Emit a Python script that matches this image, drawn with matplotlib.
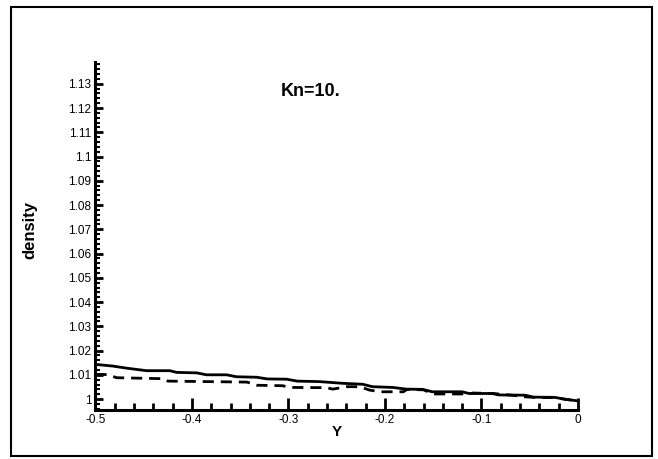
import matplotlib
matplotlib.use('Agg')
import matplotlib.pyplot as plt
from matplotlib.ticker import MultipleLocator, FixedLocator, FixedFormatter
from matplotlib.patches import Rectangle

# DATA
solid_x = [-0.5, -0.482, -0.467, -0.447, -0.423, -0.416, -0.395, -0.385, -0.364,
           -0.354, -0.333, -0.322, -0.302, -0.291, -0.268, -0.244, -0.223, -0.213,
           -0.192, -0.178, -0.161, -0.151, -0.120, -0.113, -0.089, -0.082, -0.055,
           -0.046, -0.024, -0.013, -0.001]
solid_y = [1.0143, 1.0136, 1.0127, 1.0117, 1.0117, 1.0110, 1.0108, 1.0100, 1.0100,
           1.0092, 1.0090, 1.0083, 1.0082, 1.0074, 1.0072, 1.0065, 1.0061, 1.0051,
           1.0048, 1.0041, 1.0040, 1.0030, 1.0030, 1.0023, 1.0023, 1.0017, 1.0016,
           1.0008, 1.0007, 0.9999, 0.9993]

dash_x = [-0.5, -0.488, -0.478, -0.430, -0.425, -0.343, -0.333, -0.306, -0.299,
          -0.261, -0.254, -0.240, -0.226, -0.216, -0.205, -0.181, -0.177, -0.160,
          -0.150, -0.112, -0.109, -0.088, -0.064, -0.058, -0.046, -0.024, -0.013,
          -0.001]
dash_y = [1.0102, 1.0101, 1.0088, 1.0084, 1.0074, 1.0070, 1.0057, 1.0055, 1.0048,
          1.0047, 1.0041, 1.0051, 1.0051, 1.0037, 1.0030, 1.0030, 1.0040, 1.0038,
          1.0021, 1.0021, 1.0025, 1.0023, 1.0014, 1.0010, 1.0007, 1.0006, 0.9999,
          0.9993]

x_ticks = [-0.5, -0.4, -0.3, -0.2, -0.1, 0.0]
x_labels = ['-0.5', '-0.4', '-0.3', '-0.2', '-0.1', '0']
y_ticks = [1.0, 1.01, 1.02, 1.03, 1.04, 1.05, 1.06, 1.07, 1.08, 1.09, 1.1, 1.11, 1.12, 1.13]
y_labels = ['1', '1.01', '1.02', '1.03', '1.04', '1.05', '1.06', '1.07', '1.08',
            '1.09', '1.1', '1.11', '1.12', '1.13']

plt.rcParams['font.family'] = ['Liberation Sans', 'DejaVu Sans']

fig = plt.figure(figsize=(6.58, 4.59), dpi=100)
ax = fig.add_axes([0.1451, 0.1068, 0.7333, 0.7582])

# frame round the whole picture
fig.patches.append(Rectangle((11 / 658, 3 / 459), 641 / 658, 449 / 459,
                             transform=fig.transFigure, fill=False,
                             edgecolor='black', lw=1.5))

ax.plot(solid_x, solid_y, color='black', lw=2)
ax.plot(dash_x, dash_y, color='black', lw=2, dashes=(4, 2.5))

ax.set_xlim(-0.5, 0.0)
ax.set_ylim(0.9955, 1.139)

for s in ['top', 'right']:
    ax.spines[s].set_visible(False)
for s in ['left', 'bottom']:
    ax.spines[s].set_linewidth(2.2)

ax.xaxis.set_major_locator(FixedLocator(x_ticks))
ax.xaxis.set_major_formatter(FixedFormatter(x_labels))
ax.xaxis.set_minor_locator(MultipleLocator(0.02))
ax.yaxis.set_major_locator(FixedLocator(y_ticks))
ax.yaxis.set_major_formatter(FixedFormatter(y_labels))
ax.yaxis.set_minor_locator(MultipleLocator(0.002))

ax.tick_params(axis='x', which='major', direction='in', length=9, width=2,
               labelsize=8.5, pad=3)
ax.tick_params(axis='x', which='minor', direction='in', length=5, width=2)
ax.tick_params(axis='y', which='major', direction='in', length=6, width=2,
               labelsize=8.5, pad=3)
ax.tick_params(axis='y', which='minor', direction='in', length=3.5, width=1.5)

ax.set_xlabel('Y', fontsize=11, fontweight='bold')
ax.xaxis.label.set_va('center')
ax.xaxis.set_label_coords(0.5, -0.063)
ax.set_ylabel('density', fontsize=12, fontweight='bold')
ax.yaxis.label.set_va('center')
ax.yaxis.set_label_coords(-0.136, 0.517)

ax.text(-0.277, 1.1268, 'Kn=10.', fontsize=13, fontweight='bold',
        ha='center', va='center')

fig.savefig('out.png', dpi=100)
